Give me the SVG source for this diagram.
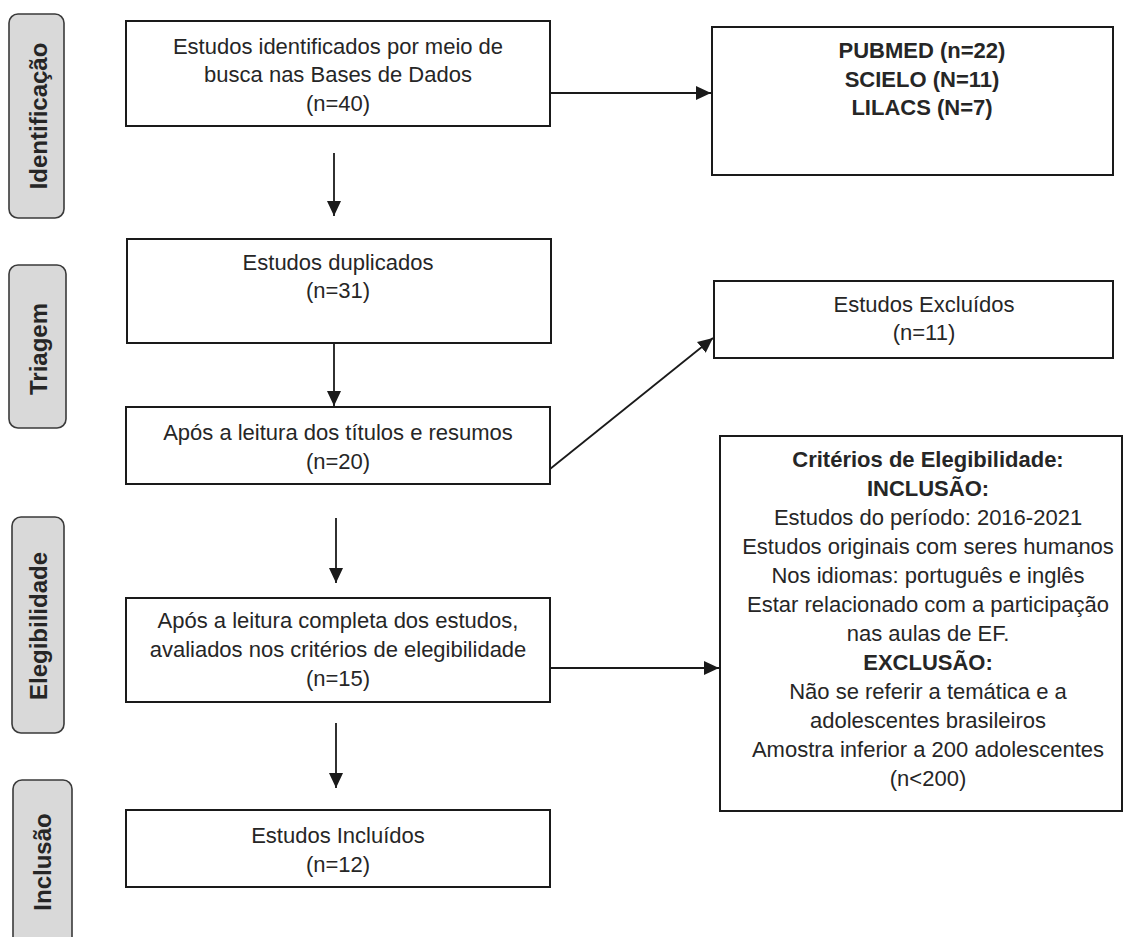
<svg xmlns="http://www.w3.org/2000/svg" width="1126" height="937" viewBox="0 0 1126 937">
<defs>
<style>
.box{fill:#fff;stroke:#1a1a1a;stroke-width:2}
.lab{fill:#d9d9d9;stroke:#3a3a3a;stroke-width:1.6}
.t{font-family:"Liberation Sans",Arial,sans-serif;font-size:22px;fill:#262626;text-anchor:middle}
.b{font-weight:bold}
.lt{font-family:"Liberation Sans",Arial,sans-serif;font-size:24px;font-weight:bold;fill:#262626;text-anchor:middle}
.c{stroke:#1a1a1a;stroke-width:1.8;fill:none;marker-end:url(#ah)}
</style>
<marker id="ah" markerUnits="userSpaceOnUse" markerWidth="16" markerHeight="14" refX="15" refY="7" orient="auto">
<path d="M0,0 L15,7 L0,14 Z" fill="#1a1a1a"/>
</marker>
</defs>
<rect width="1126" height="937" fill="#fff"/>

<g id="label-identificacao">
<rect class="lab" x="9" y="14" width="55" height="204" rx="9"/>
<text class="lt" transform="translate(47,116) rotate(-90)">Identificação</text>
</g>
<g id="label-triagem">
<rect class="lab" x="9" y="265" width="57" height="163" rx="9"/>
<text class="lt" transform="translate(47,349) rotate(-90)">Triagem</text>
</g>
<g id="label-elegibilidade">
<rect class="lab" x="12" y="517" width="52" height="216" rx="9"/>
<text class="lt" transform="translate(47,626) rotate(-90)">Elegibilidade</text>
</g>
<g id="label-inclusao">
<rect class="lab" x="13" y="780" width="59" height="170" rx="9"/>
<text class="lt" transform="translate(51,862) rotate(-90)">Inclusão</text>
</g>

<g id="connectors">
<line class="c" x1="334" y1="153" x2="334" y2="216"/>
<line class="c" x1="334" y1="343" x2="334" y2="406"/>
<line class="c" x1="336" y1="518" x2="336" y2="583"/>
<line class="c" x1="336" y1="723" x2="336" y2="788"/>
<line class="c" x1="549" y1="93" x2="711" y2="93"/>
<line class="c" x1="549" y1="668" x2="719" y2="668"/>
<line class="c" x1="550" y1="469" x2="713" y2="338"/>
</g>

<g id="n-identificados">
<rect class="box" x="126" y="21" width="424" height="105"/>
<text class="t" x="338" y="54">Estudos identificados por meio de</text>
<text class="t" x="338" y="82">busca nas Bases de Dados</text>
<text class="t" x="338" y="111">(n=40)</text>
</g>
<g id="n-bases">
<rect class="box" x="712" y="27" width="401" height="148"/>
<text class="t b" x="922" y="58">PUBMED (n=22)</text>
<text class="t b" x="922" y="87">SCIELO (N=11)</text>
<text class="t b" x="922" y="115">LILACS (N=7)</text>
</g>
<g id="n-duplicados">
<rect class="box" x="127" y="239" width="424" height="104"/>
<text class="t" x="338" y="270">Estudos duplicados</text>
<text class="t" x="338" y="298">(n=31)</text>
</g>
<g id="n-titulos">
<rect class="box" x="126" y="407" width="424" height="77"/>
<text class="t" x="338" y="440">Após a leitura dos títulos e resumos</text>
<text class="t" x="338" y="469">(n=20)</text>
</g>
<g id="n-excluidos">
<rect class="box" x="714" y="281" width="399" height="77"/>
<text class="t" x="924" y="312">Estudos Excluídos</text>
<text class="t" x="924" y="340">(n=11)</text>
</g>
<g id="n-completa">
<rect class="box" x="126" y="598" width="424" height="104"/>
<text class="t" x="338" y="628">Após a leitura completa dos estudos,</text>
<text class="t" x="338" y="657">avaliados nos critérios de elegibilidade</text>
<text class="t" x="338" y="686">(n=15)</text>
</g>
<g id="n-criterios">
<rect class="box" x="720" y="436" width="402" height="375"/>
<text class="t b" x="928" y="467">Critérios de Elegibilidade:</text>
<text class="t b" x="928" y="496">INCLUSÃO:</text>
<text class="t" x="928" y="525">Estudos do período: 2016-2021</text>
<text class="t" x="928" y="554">Estudos originais com seres humanos</text>
<text class="t" x="928" y="583">Nos idiomas: português e inglês</text>
<text class="t" x="928" y="612">Estar relacionado com a participação</text>
<text class="t" x="928" y="641">nas aulas de EF.</text>
<text class="t b" x="928" y="670">EXCLUSÃO:</text>
<text class="t" x="928" y="699">Não se referir a temática e a</text>
<text class="t" x="928" y="728">adolescentes brasileiros</text>
<text class="t" x="928" y="757">Amostra inferior a 200 adolescentes</text>
<text class="t" x="928" y="786">(n&lt;200)</text>
</g>
<g id="n-incluidos">
<rect class="box" x="126" y="810" width="424" height="77"/>
<text class="t" x="338" y="843">Estudos Incluídos</text>
<text class="t" x="338" y="872">(n=12)</text>
</g>
</svg>
